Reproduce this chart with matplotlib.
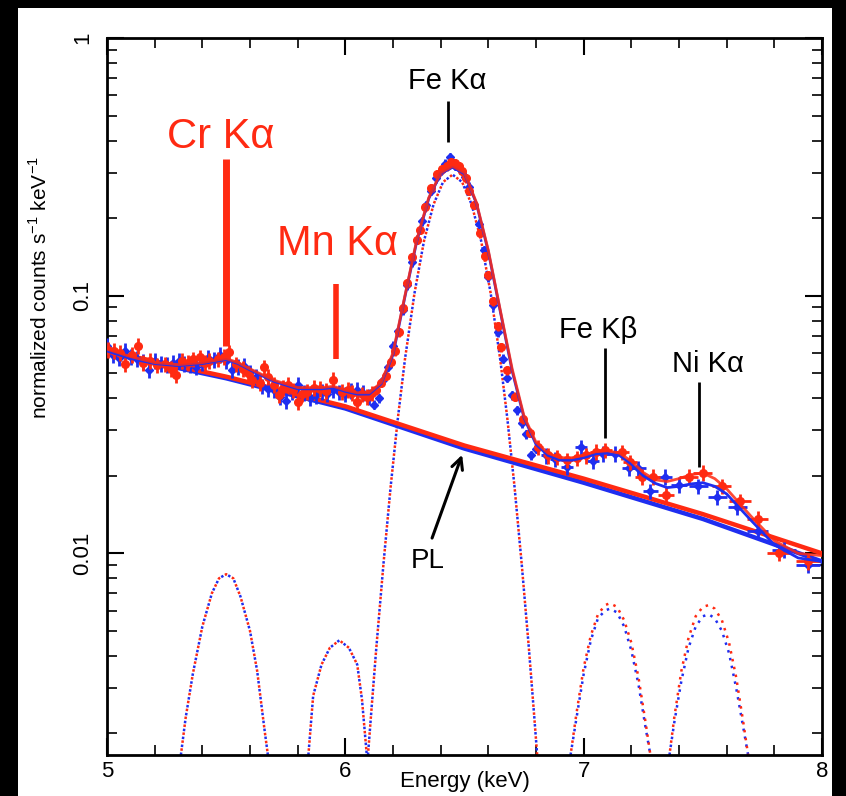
import matplotlib
matplotlib.use("Agg")
import matplotlib.pyplot as plt
from matplotlib.patches import Rectangle
import numpy as np

plt.rcParams['font.family'] = ['Liberation Sans', 'DejaVu Sans']
plt.rcParams['mathtext.fontset'] = 'custom'
plt.rcParams['mathtext.rm'] = 'Liberation Sans'

RED = '#ff2a12'
BLUE = '#1f2ef0'

# ---------------- data points (blue spectrum) ----------------
E_blue = [5.000, 5.025, 5.050, 5.075, 5.100, 5.125, 5.150, 5.175, 5.200, 5.225,
          5.250, 5.275, 5.300, 5.325, 5.350, 5.375, 5.400, 5.425, 5.450, 5.475,
          5.500, 5.525, 5.550, 5.575, 5.600, 5.625, 5.650, 5.675, 5.700, 5.725,
          5.750, 5.775, 5.800, 5.825, 5.850, 5.875, 5.900, 5.925, 5.950, 5.975,
          6.000, 6.025, 6.050, 6.075, 6.100,
          6.12, 6.14, 6.16, 6.18, 6.20, 6.22, 6.24, 6.26, 6.28, 6.30,
          6.32, 6.34, 6.36, 6.38, 6.40, 6.42, 6.44, 6.46, 6.48, 6.50,
          6.52, 6.54, 6.56, 6.58, 6.60, 6.62, 6.64, 6.66, 6.68, 6.70,
          6.72, 6.74, 6.76, 6.78, 6.80,
          6.84, 6.88, 6.93, 6.99, 7.04, 7.08, 7.13, 7.19, 7.23, 7.28,
          7.34, 7.40, 7.48, 7.56, 7.645, 7.73, 7.84, 7.94]
F_blue = [0.0640, 0.0590, 0.0575, 0.0610, 0.0580, 0.0570, 0.0555, 0.0515, 0.0560, 0.0545,
          0.0540, 0.0550, 0.0560, 0.0545, 0.0540, 0.0528, 0.0550, 0.0575, 0.0565, 0.0590,
          0.0560, 0.0515, 0.0530, 0.0535, 0.0505, 0.0485, 0.0445, 0.0435, 0.0432, 0.0405,
          0.0390, 0.0425, 0.0451, 0.0420, 0.0400, 0.0410, 0.0425, 0.0417, 0.0430, 0.0422,
          0.0415, 0.0428, 0.0432, 0.0420, 0.0406,
          0.0378, 0.0400, 0.0470, 0.0530, 0.0640, 0.0730, 0.0880, 0.110, 0.135, 0.165,
          0.195, 0.225, 0.255, 0.285, 0.305, 0.325, 0.345, 0.320, 0.310, 0.290,
          0.265, 0.225, 0.190, 0.150, 0.118, 0.092, 0.072, 0.057, 0.048, 0.041,
          0.036, 0.032, 0.029, 0.0240, 0.0255,
          0.0240, 0.0232, 0.0216, 0.0258, 0.0229, 0.0244, 0.0244, 0.0214, 0.0214, 0.0174,
          0.0198, 0.0185, 0.0182, 0.0165, 0.0152, 0.0122, 0.0103, 0.0090]
# half bin widths (keV) and relative 1-sigma errors
dE_blue = [0.012] * 45 + [0.010] * 35 + [0.02, 0.02, 0.025, 0.025, 0.025, 0.025, 0.03, 0.03,
                                         0.03, 0.03, 0.03, 0.035, 0.04, 0.04, 0.04, 0.045,
                                         0.05, 0.05]
rel_blue = [0.07] * 45 + [0.04] * 35 + [0.07] * 18

# ---------------- data points (red spectrum) ----------------
E_red = [5.005, 5.030, 5.055, 5.075, 5.105, 5.130, 5.150, 5.180, 5.210, 5.245,
         5.270, 5.290, 5.315, 5.340, 5.360, 5.390, 5.410, 5.430, 5.465, 5.490,
         5.510, 5.540, 5.570, 5.590, 5.610, 5.640, 5.660, 5.675, 5.700, 5.720,
         5.740, 5.760, 5.780, 5.800, 5.820, 5.840, 5.870, 5.895, 5.920, 5.950,
         5.985, 6.010, 6.030, 6.050, 6.070, 6.090, 6.110,
         6.130, 6.150, 6.170, 6.190, 6.210, 6.225, 6.240, 6.260, 6.280, 6.300,
         6.315, 6.335, 6.360, 6.385, 6.405, 6.425, 6.445, 6.460, 6.475, 6.490,
         6.505, 6.520, 6.540, 6.565, 6.585, 6.600, 6.620, 6.640, 6.655, 6.680,
         6.710, 6.745, 6.775,
         6.810, 6.850, 6.890, 6.930, 6.970, 7.010, 7.050, 7.090, 7.160, 7.195,
         7.245, 7.290, 7.345, 7.440, 7.500, 7.580, 7.655, 7.730, 7.820, 7.940]
F_red = [0.0618, 0.0612, 0.0600, 0.0542, 0.0590, 0.0640, 0.0550, 0.0560, 0.0537, 0.0542,
         0.0520, 0.0492, 0.0560, 0.0550, 0.0566, 0.0576, 0.0550, 0.0560, 0.0566, 0.0580,
         0.0602, 0.0542, 0.0520, 0.0500, 0.0470, 0.0460, 0.0528, 0.0484, 0.0451, 0.0413,
         0.0440, 0.0451, 0.0430, 0.0388, 0.0415, 0.0424, 0.0440, 0.0435, 0.0428, 0.0471,
         0.0424, 0.0432, 0.0420, 0.0388, 0.0415, 0.0406, 0.0418,
         0.0430, 0.0460, 0.0490, 0.0551, 0.0610, 0.0720, 0.0892, 0.112, 0.141, 0.165,
         0.180, 0.220, 0.262, 0.296, 0.310, 0.318, 0.330, 0.326, 0.318, 0.304,
         0.285, 0.255, 0.225, 0.175, 0.142, 0.120, 0.095, 0.076, 0.063, 0.0514,
         0.0406, 0.0332, 0.0294,
         0.0258, 0.0240, 0.0236, 0.0230, 0.0234, 0.0240, 0.0248, 0.0251, 0.0247, 0.0226,
         0.0198, 0.0198, 0.0169, 0.0198, 0.0205, 0.0182, 0.0159, 0.0136, 0.0100, 0.0093]
dE_red = [0.012] * 47 + [0.009] * 33 + [0.02, 0.02, 0.02, 0.025, 0.025, 0.025, 0.025, 0.03,
                                        0.03, 0.03, 0.03, 0.03, 0.035, 0.04, 0.04, 0.04,
                                        0.045, 0.045, 0.05, 0.05]
rel_red = [0.07] * 47 + [0.04] * 33 + [0.07] * 20

# ---------------- fitted total models ----------------
E_model = [5.0, 5.1, 5.2, 5.3, 5.4, 5.45, 5.5, 5.55, 5.6, 5.7, 5.8, 5.9, 5.95, 6.0,
           6.05, 6.1, 6.15, 6.2, 6.25, 6.3, 6.35, 6.4, 6.45, 6.5, 6.55, 6.6, 6.65,
           6.7, 6.75, 6.8, 6.85, 6.9, 6.95, 7.0, 7.05, 7.1, 7.15, 7.2, 7.25, 7.3,
           7.35, 7.4, 7.45, 7.5, 7.55, 7.6, 7.7, 7.8, 7.9, 8.0]
M_red = [0.062, 0.058, 0.055, 0.054, 0.055, 0.056, 0.057, 0.055, 0.052, 0.047, 0.044,
         0.044, 0.0445, 0.043, 0.042, 0.042, 0.046, 0.060, 0.100, 0.165, 0.240, 0.300,
         0.318, 0.300, 0.230, 0.150, 0.088, 0.052, 0.034, 0.027, 0.0245, 0.0235, 0.0235,
         0.0240, 0.0248, 0.0250, 0.0245, 0.0228, 0.0206, 0.0193, 0.0190, 0.0195, 0.0202,
         0.0205, 0.0195, 0.0178, 0.0140, 0.0112, 0.0100, 0.0098]
M_blue = [0.061, 0.057, 0.0545, 0.0535, 0.0545, 0.0555, 0.0565, 0.0545, 0.0515, 0.0465,
          0.0435, 0.0435, 0.044, 0.0425, 0.0415, 0.0415, 0.0455, 0.059, 0.099, 0.163,
          0.238, 0.298, 0.315, 0.297, 0.228, 0.148, 0.087, 0.051, 0.0335, 0.0265, 0.024,
          0.023, 0.023, 0.0235, 0.0243, 0.0245, 0.024, 0.0222, 0.0200, 0.0187, 0.0180,
          0.0182, 0.0186, 0.0188, 0.0182, 0.0170, 0.0135, 0.0108, 0.0096, 0.0093]

# ---------------- power-law continuum ----------------
E_pl = [5.0, 5.5, 6.0, 6.5, 7.0, 7.5, 8.0]
PL_red = [0.0610, 0.0485, 0.0372, 0.0262, 0.0195, 0.0142, 0.0100]
PL_blue = [0.0600, 0.0478, 0.0365, 0.0255, 0.0188, 0.0136, 0.0093]

# ---------------- Gaussian line components (dotted) ----------------
E_cr = [5.31, 5.33, 5.36, 5.40, 5.44, 5.47, 5.50, 5.53, 5.56, 5.60, 5.63, 5.66, 5.675]
G_cr = [0.00165, 0.0023, 0.0034, 0.0052, 0.0070, 0.0080, 0.0083, 0.0080, 0.0068,
        0.0050, 0.0035, 0.0021, 0.00165]
E_mn = [5.845, 5.865, 5.90, 5.935, 5.975, 6.015, 6.05, 6.07, 6.09]
G_mn = [0.00165, 0.0028, 0.0037, 0.0043, 0.0046, 0.0043, 0.0037, 0.0027, 0.00165]
E_fe = [6.095, 6.11, 6.13, 6.16, 6.19, 6.22, 6.25, 6.29, 6.33, 6.37, 6.41, 6.45,
        6.49, 6.53, 6.57, 6.61, 6.65, 6.68, 6.71, 6.74, 6.77, 6.79, 6.805]
G_fe = [0.00165, 0.0025, 0.0043, 0.0091, 0.0181, 0.0332, 0.0565, 0.102, 0.163, 0.226,
        0.276, 0.295, 0.276, 0.226, 0.163, 0.102, 0.0565, 0.0332, 0.0181, 0.0091,
        0.0043, 0.0025, 0.00165]
E_kb = [6.945, 6.97, 7.00, 7.03, 7.06, 7.09, 7.11, 7.14, 7.17, 7.20, 7.23, 7.26, 7.28]
G_kb_red = [0.00165, 0.0024, 0.0036, 0.0048, 0.0058, 0.0063, 0.0064, 0.0062, 0.0055,
            0.0045, 0.0033, 0.0022, 0.00165]
G_kb_blue = [0.00165, 0.0023, 0.0034, 0.0046, 0.0056, 0.0060, 0.0061, 0.0059, 0.0052,
             0.0042, 0.0031, 0.0021, 0.00165]
E_ni = [7.36, 7.38, 7.41, 7.44, 7.47, 7.50, 7.525, 7.55, 7.58, 7.61, 7.64, 7.67, 7.69]
G_ni_red = [0.00165, 0.0023, 0.0035, 0.0047, 0.0057, 0.0062, 0.0063, 0.0061, 0.0055,
            0.0045, 0.0033, 0.0022, 0.00165]
G_ni_blue = [0.00165, 0.0022, 0.0032, 0.0043, 0.0052, 0.0057, 0.0058, 0.0056, 0.0050,
             0.0041, 0.0030, 0.0021, 0.00165]

# ---------------- annotations ----------------
labels = ['Cr Kα', 'Mn Kα', 'Fe Kα', 'Fe Kβ', 'Ni Kα']
label_E = [5.478, 5.969, 6.427, 7.06, 7.522]
label_F = [0.413, 0.158, 0.680, 0.0736, 0.0542]
label_colors = [RED, RED, 'black', 'black', 'black']
label_sizes = [30, 30, 21, 21, 21]
marker_E = [5.50, 5.96, 6.43, 7.09, 7.485]
marker_top = [0.338, 0.111, 0.571, 0.0629, 0.0463]
marker_bot = [0.064, 0.0566, 0.395, 0.0281, 0.0216]
marker_lw = [5, 4, 2, 2, 2]

# ---------------- figure ----------------
fig = plt.figure(figsize=(8.46, 7.96), dpi=100)
fig.patch.set_facecolor('black')
fig.add_artist(Rectangle((18 / 846, 0), (832 - 18) / 846, 1 - 8 / 796,
                         transform=fig.transFigure, facecolor='white',
                         edgecolor='none', zorder=-10))
ax = fig.add_axes([107 / 846, 1 - 755 / 796, (822 - 107) / 846, (755 - 38) / 796])
ax.set_facecolor('white')
ax.set_yscale('log')
ax.set_xlim(5, 8)
ax.set_ylim(0.00165, 1.0)

# components (dotted)
for Ec, Gr, Gb in [(E_cr, G_cr, G_cr), (E_mn, G_mn, G_mn), (E_fe, G_fe, G_fe),
                   (E_kb, G_kb_red, G_kb_blue), (E_ni, G_ni_red, G_ni_blue)]:
    ax.plot(Ec, Gb, color=BLUE, lw=1.8, ls=(0, (1, 2.2)), zorder=2)
    ax.plot(Ec, Gr, color=RED, lw=1.8, ls=(1.5, (1, 2.2)), zorder=2)

# power laws
ax.plot(E_pl, PL_blue, color=BLUE, lw=3.2, zorder=3)
ax.plot(E_pl, PL_red, color=RED, lw=3.2, zorder=3)

# data
ax.errorbar(E_blue, F_blue, xerr=dE_blue, yerr=np.array(rel_blue) * np.array(F_blue),
            fmt='D', ms=4.5, color=BLUE, ecolor=BLUE, elinewidth=2, capsize=0,
            zorder=4)
ax.errorbar(E_red, F_red, xerr=dE_red, yerr=np.array(rel_red) * np.array(F_red),
            fmt='o', ms=5.5, color=RED, ecolor=RED, elinewidth=2, capsize=0,
            zorder=5)

# models
ax.plot(E_model, M_blue, color=BLUE, lw=2, zorder=6)
ax.plot(E_model, M_red, color=RED, lw=2, alpha=0.85, zorder=6)

# annotation text and markers
for t, xe, yf, c, s in zip(labels, label_E, label_F, label_colors, label_sizes):
    ax.text(xe, yf, t, color=c, fontsize=s, ha='center', va='center', zorder=8)
for xe, yt, yb, lw, c in zip(marker_E, marker_top, marker_bot, marker_lw, label_colors):
    ax.plot([xe, xe], [yb, yt], color=c, lw=lw, solid_capstyle='butt', zorder=8)

ax.text(6.347, 0.00933, 'PL', fontsize=20, ha='center', va='center', zorder=8)
ax.annotate('', xy=(6.494, 0.0247), xytext=(6.36, 0.0112),
            arrowprops=dict(arrowstyle='->', lw=2.2, color='black',
                            mutation_scale=20), zorder=8)

# axes styling
for sp in ax.spines.values():
    sp.set_linewidth(2)
ax.set_xticks([5, 6, 7, 8])
ax.set_xticklabels(['5', '6', '7', '8'])
ax.set_xticks(np.arange(5.2, 8.0, 0.2), minor=True)
ax.set_yticks([0.01, 0.1, 1])
ax.set_yticklabels(['0.01', '0.1', '1'], rotation=90, va='center')
ax.tick_params(which='major', direction='in', length=12, width=1.5,
               top=True, right=True, labelsize=16)
ax.tick_params(axis='x', which='major', pad=4)
ax.tick_params(axis='y', which='major', pad=10)
ax.tick_params(which='minor', direction='in', length=7, width=1.2,
               top=True, right=True)
ax.set_xlabel('Energy (keV)', fontsize=16, va='top')
ax.xaxis.set_label_coords(0.5, (755 - 771) / 717)
ax.set_ylabel('normalized counts s$^{-1}$ keV$^{-1}$', fontsize=15, va='center')
ax.yaxis.set_label_coords((40 - 107) / 715, (755 - 287) / 717)

fig.savefig('out.png', dpi=100, facecolor=fig.get_facecolor())
